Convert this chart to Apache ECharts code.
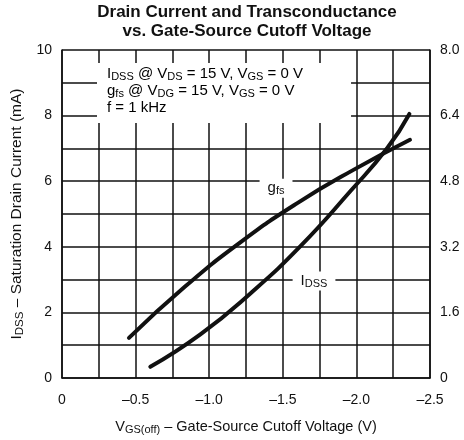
<!DOCTYPE html>
<html>
<head>
<meta charset="utf-8">
<script src="https://cdn.jsdelivr.net/npm/echarts@6/dist/echarts.min.js"></script>
<style>
  html, body { margin: 0; padding: 0; background: #fff; }
  #chart { width: 464px; height: 440px; }
</style>
</head>
<body>
<div id="chart"></div>
<script>
// ============ 数据 ============
// IDSS (mA, left axis) vs VGS(off)
const idssX = [-0.60, -0.94, -1.28, -1.62, -1.96, -2.21, -2.36]
const idssY = [0.34, 1.33, 2.58, 4.02, 5.70, 7.01, 8.05]
// gfs (mS, right axis) vs VGS(off)
const gfsX = [-0.455, -0.836, -1.216, -1.596, -1.977, -2.364]
const gfsY = [0.98, 2.23, 3.32, 4.26, 5.07, 5.81]

const xTicks = [0, -0.5, -1.0, -1.5, -2.0, -2.5]
const leftTicks = [0, 2, 4, 6, 8, 10]
const rightTicks = [0, 1.6, 3.2, 4.8, 6.4, 8.0]

const font = 'Liberation Sans, Arial, Helvetica, sans-serif'
const ink = '#111'

// 正文 / 下标样式
const txt = (size, lh) => ({ fontSize: size, fontFamily: font, color: ink, lineHeight: lh })
const sub = (size) => ({ fontSize: size, fontFamily: font, color: ink, verticalAlign: 'bottom', lineHeight: size - 1 })

const chart = echarts.init(document.getElementById('chart'))

const fmtX = (v) => {
  const r = Math.round(v * 10) / 10
  return r === 0 ? '0' : '\u2013' + Math.abs(r).toFixed(1)
}

const curveLabel = (text, coord) => ({
  symbol: 'rect',
  symbolSize: 1,
  itemStyle: { color: 'transparent' },
  data: [{ coord }],
  label: {
    show: true,
    position: 'inside',
    formatter: text,
    backgroundColor: '#fff',
    padding: [1, 8, 1, 8],
    rich: { n: txt(15, 17), s: sub(11) }
  }
})

chart.setOption({
  backgroundColor: '#fff',
  animation: false,
  grid: { left: 62, right: 34, top: 50, bottom: 62 },
  graphic: [
    {
      type: 'text',
      x: 247, y: 3,
      style: {
        text: 'Drain Current and Transconductance\nvs. Gate-Source Cutoff Voltage',
        align: 'center',
        font: 'bold 17px ' + font,
        lineHeight: 19,
        fill: ink
      }
    },
    {
      type: 'text',
      x: 97, y: 63,
      z: 10,
      style: {
        text: '{n|I}{s|DSS}{n| @ V}{s|DS}{n| = 15 V, V}{s|GS}{n| = 0 V}\n' +
              '{n|g}{s|fs}{n| @ V}{s|DG}{n| = 15 V, V}{s|GS}{n| = 0 V}\n' +
              '{n|f = 1 kHz}',
        backgroundColor: '#fff',
        padding: [2, 48, 7, 10],
        rich: { n: txt(15, 17), s: sub(11) }
      }
    }
  ],
  xAxis: {
    type: 'value',
    min: -2.5,
    max: 0,
    interval: 0.5,
    inverse: true,
    axisLine: { show: true, onZero: false, lineStyle: { color: ink, width: 1.5 } },
    axisTick: { show: false },
    minorTick: { show: false, splitNumber: 2 },
    splitLine: { show: true, lineStyle: { color: ink, width: 1.5 } },
    minorSplitLine: { show: true, lineStyle: { color: ink, width: 1.5 } },
    axisLabel: {
      margin: 15,
      fontSize: 14,
      fontFamily: font,
      color: ink,
      formatter: fmtX
    },
    name: '{n|V}{s|GS(off)}{n| \u2013 Gate-Source Cutoff Voltage (V)}',
    nameLocation: 'middle',
    nameGap: 40,
    nameTextStyle: { rich: { n: txt(14.5, 17), s: sub(11) } }
  },
  yAxis: [
    {
      type: 'value',
      min: 0,
      max: 10,
      interval: 2,
      axisLine: { show: true, lineStyle: { color: ink, width: 1.5 } },
      axisTick: { show: false },
      minorTick: { show: false, splitNumber: 2 },
      splitLine: { show: true, lineStyle: { color: ink, width: 1.5 } },
      minorSplitLine: { show: true, lineStyle: { color: ink, width: 1.5 } },
      axisLabel: {
        margin: 10,
        fontSize: 14,
        fontFamily: font,
        color: ink,
        formatter: (v) => String(Math.round(v))
      },
      name: '{n|I}{s|DSS}{n| \u2013 Saturation Drain Current (mA)}',
      nameLocation: 'middle',
      nameGap: 33,
      nameTextStyle: { rich: { n: txt(15.5, 17), s: sub(11.5) } }
    },
    {
      type: 'value',
      min: 0,
      max: 8,
      interval: 1.6,
      position: 'right',
      axisLine: { show: true, lineStyle: { color: ink, width: 1.5 } },
      axisTick: { show: false },
      splitLine: { show: false },
      axisLabel: {
        margin: 10,
        fontSize: 14,
        fontFamily: font,
        color: ink,
        formatter: (v) => {
          const r = Math.round(v * 10) / 10
          return r === 0 ? '0' : r.toFixed(1)
        }
      }
    }
  ],
  series: [
    {
      name: 'IDSS',
      type: 'line',
      yAxisIndex: 0,
      data: idssX.map((x, i) => [x, idssY[i]]),
      smooth: 0.5,
      symbol: 'none',
      z: 5,
      lineStyle: { color: ink, width: 4, cap: 'round' },
      markPoint: curveLabel('{n|I}{s|DSS}', [-1.712, 2.96])
    },
    {
      name: 'gfs',
      type: 'line',
      yAxisIndex: 1,
      data: gfsX.map((x, i) => [x, gfsY[i]]),
      smooth: 0.5,
      symbol: 'none',
      z: 5,
      lineStyle: { color: ink, width: 4, cap: 'round' },
      markPoint: curveLabel('{n|g}{s|fs}', [-1.454, 4.63])
    }
  ]
})
</script>
</body>
</html>
